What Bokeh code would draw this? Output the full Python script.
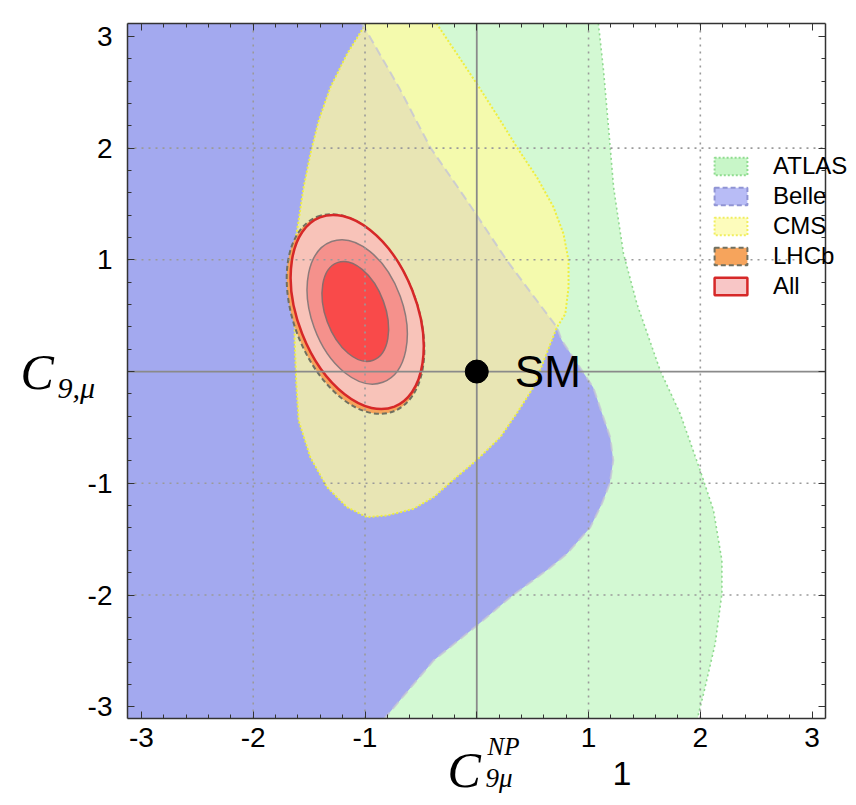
from bokeh.plotting import figure
from bokeh.models import (FixedTicker, LinearAxis, Label, Legend, LegendItem,
                          Range1d, ColumnDataSource)
from bokeh.embed import file_html
from bokeh.resources import INLINE

# ---------------- data ----------------
X_LO, X_HI = -3.125, 3.12          # visible plot box in data units
Y_LO, Y_HI = -3.105, 3.115
major_ticks = [-3, -2, -1, 0, 1, 2, 3]
minor_ticks = [round(-3.0 + 0.2 * i, 1) for i in range(31)]
grid_ticks = [-2, -1, 1, 2]
x_tick_labels = {-3: "-3", -2: "-2", -1: "-1", 0: "", 1: "1", 2: "2", 3: "3"}
y_tick_labels = {-3: "-3", -2: "-2", -1: "-1", 0: "", 1: "1", 2: "2", 3: "3"}

# ATLAS: right-hand boundary (top to bottom)
atlas_cx = [1.088, 1.134, 1.194, 1.224, 1.268, 1.313, 1.433, 1.641, 1.820,
            1.999, 2.118, 2.193, 2.193, 2.133, 2.029, 1.984, 1.978]
atlas_cy = [3.115, 2.692, 2.006, 1.649, 1.351, 1.053, 0.606, 0.009, -0.378,
            -0.886, -1.243, -1.691, -1.988, -2.436, -2.883, -3.062, -3.105]

# Belle: right-hand boundary (top to bottom)
belle_cx = [-1.029, -0.997, -0.70, -0.416, -0.088, 0.27, 0.50, 0.717, 0.76, 1.042,
            1.194, 1.221, 1.19, 1.12, 1.015, 0.809, 0.65, 0.30, 0.002, -0.386, -0.825]
belle_cy = [3.115, 3.065, 2.55, 2.006, 1.53, 0.993, 0.685, 0.396, 0.28, -0.143,
            -0.590, -0.796, -1.0, -1.18, -1.395, -1.628, -1.76, -2.019, -2.272,
            -2.585, -3.105]

# CMS: boundary, from the top edge round to the top edge
cms_x = [-0.36, -0.177, 0.002, 0.19, 0.36, 0.538, 0.687, 0.776, 0.821,
         0.821, 0.792, 0.717, 0.62, 0.508, 0.36, 0.21, 0.002, -0.2, -0.386, -0.565,
         -0.803, -0.982, -1.161, -1.340, -1.489, -1.594, -1.615, -1.63, -1.625, -1.623,
         -1.594, -1.549, -1.489, -1.415, -1.310, -1.161, -1.013, -0.991]
cms_y = [3.115, 2.842, 2.573, 2.28, 2.006, 1.738, 1.470, 1.232, 0.993,
         0.754, 0.516, 0.396, 0.15, -0.14, -0.37, -0.588, -0.79, -0.96, -1.124, -1.228,
         -1.288, -1.303, -1.214, -1.035, -0.767, -0.438, -0.1, 0.3, 0.7, 1.172,
         1.351, 1.649, 1.947, 2.245, 2.543, 2.842, 3.08, 3.115]

# LHCb and combined ("All") contours: centre, full axes, tilt (deg)
lhcb_cx, lhcb_cy, lhcb_w, lhcb_h, lhcb_angle = [-1.085], [0.515], [1.87], [1.10], [111.5]
all_cx = [-1.07, -1.07, -1.087]
all_cy = [0.533, 0.534, 0.538]
all_w = [1.82, 1.34, 0.93]
all_h = [1.06, 0.82, 0.535]
all_angle = [111.5, 110.0, 110.2]
all_fill = ["#f8c3b9", "#f5918c", "#f94a4a"]
all_line = ["#d62828", "#8c7a7a", "#8c6c6c"]
all_width = [2.5, 1.5, 1.5]

sm_x, sm_y = [0.0], [0.0]
legend_names = ["ATLAS", "Belle", "CMS", "LHCb", "All"]

# ---------------- page geometry ----------------
W, H = 856, 805
BOX_L, BOX_R, BOX_T, BOX_B = 127, 825, 23, 718      # plot box in page pixels
kx = (BOX_R - BOX_L) / (X_HI - X_LO)
ky = (BOX_B - BOX_T) / (Y_HI - Y_LO)
x_range = Range1d(X_LO - BOX_L / kx, X_HI + (W - BOX_R) / kx)
y_range = Range1d(Y_LO - (H - BOX_B) / ky, Y_HI + BOX_T / ky)

p = figure(width=W, height=H, x_range=x_range, y_range=y_range,
           x_axis_location=None, y_axis_location=None, output_backend="svg",
           toolbar_location=None, min_border=0, min_border_left=0, min_border_right=0,
           min_border_top=0, min_border_bottom=0)
p.grid.visible = False
p.outline_line_color = None
p.background_fill_color = "white"
p.border_fill_color = "white"

# legend proxies (hidden below the regions, give rectangular swatches)
leg_atlas = p.patch(all_cx, all_cy, fill_color="#c8f6c8", line_color="#90dc90",
                    line_width=2, line_dash="2 2")
leg_belle = p.patch(all_cx, all_cy, fill_color="#b8bcf6", line_color="#9094d4",
                    line_width=2, line_dash="5 3")
leg_cms = p.patch(all_cx, all_cy, fill_color="#fdfcbc", line_color="#f0ee60",
                  line_width=2, line_dash="2 2")
leg_lhcb = p.patch(all_cx, all_cy, fill_color="#f6a45c", line_color="#707060",
                   line_width=2, line_dash="5 3")
leg_all = p.patch(all_cx, all_cy, fill_color="#f8c6c6", line_color="#d62828",
                  line_width=2.5)

# regions
p.patch([X_LO] + atlas_cx + [X_LO], [Y_HI] + atlas_cy + [Y_LO],
        fill_color="#d3f9d3", line_color=None)
p.line(atlas_cx, atlas_cy, line_color="#8fd88f", line_width=1.6, line_dash="2 3")
p.patch([X_LO] + belle_cx + [X_LO], [Y_HI] + belle_cy + [Y_LO],
        fill_color="#a3a9ef", line_color=None)
p.patch(cms_x, cms_y, fill_color="#fffaa0", fill_alpha=0.75, line_color=None)
p.line(cms_x, cms_y, line_color="#eeee40", line_width=2, line_dash="2 2")
p.line(belle_cx, belle_cy, line_color="#c4c4d6", line_width=2, line_dash="9 5",
       line_alpha=0.8)

p.ellipse(lhcb_cx, lhcb_cy, width=lhcb_w, height=lhcb_h, angle=lhcb_angle,
          angle_units="deg", fill_color="#f6a45c", line_color="#707060",
          line_width=2, line_dash="5 3")
src_all = ColumnDataSource(dict(x=all_cx, y=all_cy, w=all_w, h=all_h, a=all_angle,
                                fc=all_fill, lc=all_line, lw=all_width))
p.ellipse("x", "y", width="w", height="h", angle="a", angle_units="deg",
          fill_color="fc", line_color="lc", line_width="lw", source=src_all)

# dotted grid inside the box
n = len(grid_ticks)
p.segment(x0=grid_ticks, y0=[Y_LO] * n, x1=grid_ticks, y1=[Y_HI] * n,
          line_color="#9a9a9a", line_width=1.6, line_dash="2 5")
p.segment(x0=[X_LO] * n, y0=grid_ticks, x1=[X_HI] * n, y1=grid_ticks,
          line_color="#9a9a9a", line_width=1.6, line_dash="2 5")

# SM crosshair and point
p.segment(x0=[sm_x[0], X_LO], y0=[Y_LO, sm_y[0]], x1=[sm_x[0], X_HI], y1=[Y_HI, sm_y[0]],
          line_color="#8a8a8a", line_width=1.8)
p.scatter(sm_x, sm_y, size=23, color="black")
p.add_layout(Label(x=sm_x[0], y=sm_y[0], text="SM", x_offset=38, text_baseline="middle",
                   text_font="Liberation Sans", text_font_size="44px",
                   text_color="black"))

# frame axes (all four sides, ticks pointing inwards)
def make_axis(fixed, bounds, labels):
    ax = LinearAxis(fixed_location=fixed, bounds=bounds,
                    ticker=FixedTicker(ticks=major_ticks, minor_ticks=minor_ticks),
                    major_tick_in=7, major_tick_out=0, minor_tick_in=4, minor_tick_out=0,
                    axis_line_color="#333333", axis_line_width=1.5,
                    major_tick_line_color="#333333", minor_tick_line_color="#333333",
                    major_label_text_font="Liberation Sans",
                    major_label_text_font_size="28px", major_label_text_color="black")
    if labels is None:
        ax.major_label_text_font_size = "0px"
        ax.major_label_standoff = 0
    else:
        ax.major_label_overrides = labels
    return ax

ax_b = make_axis(Y_LO, (X_LO, X_HI), x_tick_labels)
ax_b.major_label_standoff = 9
ax_l = make_axis(X_LO, (Y_LO, Y_HI), y_tick_labels)
ax_l.major_label_standoff = 15
p.add_layout(ax_b, "below")
p.add_layout(ax_l, "left")
p.add_layout(make_axis(Y_HI, (X_LO, X_HI), None), "above")
p.add_layout(make_axis(X_HI, (Y_LO, Y_HI), None), "right")

# axis titles (page pixels from bottom-left)
def title_part(x, y, text, size, font="Liberation Serif", style="italic"):
    p.add_layout(Label(x=x, y=y, x_units="screen", y_units="screen", text=text,
                       text_font=font, text_font_style=style, text_font_size=size,
                       text_color="black", text_baseline="alphabetic"))

title_part(20, 434, "C", "50px")
title_part(57, 418, "9,μ", "30px")
title_part(447, 36, "C", "50px")
title_part(487, 59, "NP", "25px")
title_part(485, 28, "9μ", "27px")
title_part(612, 32, "1", "34px", font="Liberation Sans", style="normal")

legend = Legend(items=[LegendItem(label=legend_names[0], renderers=[leg_atlas]),
                       LegendItem(label=legend_names[1], renderers=[leg_belle]),
                       LegendItem(label=legend_names[2], renderers=[leg_cms]),
                       LegendItem(label=legend_names[3], renderers=[leg_lhcb]),
                       LegendItem(label=legend_names[4], renderers=[leg_all])],
                location=(710, 505), glyph_width=41, glyph_height=22,
                label_standoff=22, spacing=2, padding=0, margin=0,
                background_fill_alpha=0, border_line_alpha=0,
                label_text_font="Liberation Sans", label_text_font_size="24px",
                label_text_color="black", label_height=22)
p.add_layout(legend, "center")

open("out.html", "w").write(file_html(p, INLINE))
